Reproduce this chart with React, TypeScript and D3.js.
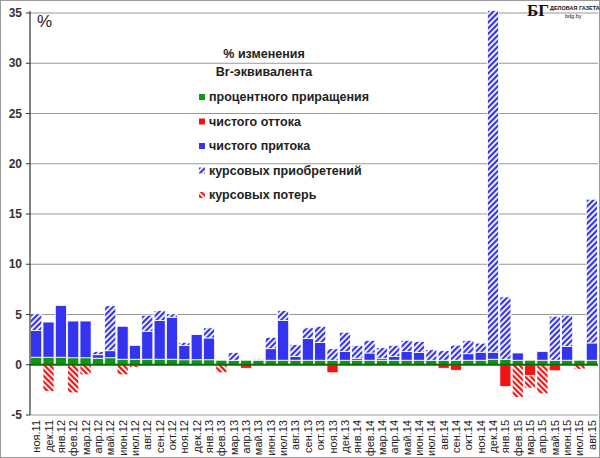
import * as d3 from "d3";

const months = [
  "ноя.11","дек.11","янв.12","фев.12","мар.12","апр.12","май.12","июн.12","июл.12","авг.12","сен.12","окт.12","ноя.12","дек.12",
  "янв.13","фев.13","мар.13","апр.13","май.13","июн.13","июл.13","авг.13","сен.13","окт.13","ноя.13","дек.13",
  "янв.14","фев.14","мар.14","апр.14","май.14","июн.14","июл.14","авг.14","сен.14","окт.14","ноя.14","дек.14",
  "янв.15","фев.15","мар.15","апр.15","май.15","июн.15","июл.15","авг.15",
];
// процентного приращения
const interest = [0.75,0.75,0.75,0.7,0.7,0.65,0.7,0.55,0.55,0.55,0.55,0.55,0.5,0.5,0.5,0.45,0.45,0.45,0.45,0.45,0.45,0.45,0.45,0.45,0.45,0.45,0.45,0.45,0.45,0.45,0.45,0.45,0.45,0.45,0.45,0.45,0.45,0.55,0.55,0.45,0.45,0.45,0.45,0.45,0.45,0.45];
// чистого притока
const inflow = [2.65,3.5,5.15,3.65,3.65,0.35,0.7,3.28,1.38,2.78,3.85,4.18,1.43,2.5,2.17,0,0,0,0.1,1.15,3.95,0.38,2.15,1.78,0,0.88,0.2,0.72,0.2,0.38,0.88,0.78,0,0,0,0.65,0.8,0.7,0,0.72,0,0.88,0,1.38,0,1.72];
// курсовых приобретений
const fxGain = [1.67,0,0,0,0,0.33,4.47,0,0,1.6,1.0,0.34,0.3,0,1.0,0,0.78,0,0.1,1.13,1.0,1.17,1.07,1.6,1.15,1.9,1.26,1.26,1.06,1.1,1.1,1.1,1.05,0.95,1.5,1.33,0.9,34.0,6.2,0,0,0,4.38,3.1,0,14.3];
// чистого оттока
const outflow = [0,0,0,0,0,0,0,0,0,0,0,0,0,0,0,0,0,0.35,0,0,0,0,0,0,0.8,0,0,0,0,0,0,0,0,0.35,0.55,0,0,0,2.17,0,1.1,0,0.6,0,0,0];
// курсовых потерь
const fxLoss = [0,2.67,0,2.8,1.0,0,0,1.0,0.25,0,0,0,0,0,0,0.8,0,0,0,0,0,0,0,0,0,0,0,0,0,0,0,0,0,0,0,0,0,0,0,3.25,1.23,2.9,0,0,0.45,0];
const yTicks = [-5, 0, 5, 10, 15, 20, 25, 30, 35];

const legend = [
  { label: "процентного приращения", fill: "#129612" },
  { label: "чистого оттока", fill: "#f01414" },
  { label: "чистого притока", fill: "#3434f0" },
  { label: "курсовых приобретений", fill: "url(#hb)" },
  { label: "курсовых потерь", fill: "url(#hr)" },
];

export default function App() {
  const W = 600, H = 458;
  const left = 30, right = 598, top = 13, bottom = 415;
  const x = d3.scaleBand<string>().domain(months).range([left, right]).paddingInner(0.1).paddingOuter(0.05);
  const y = d3.scaleLinear().domain([-5, 35]).range([bottom, top]);
  const font = "'Liberation Sans', Arial, sans-serif";

  const rects: JSX.Element[] = [];
  months.forEach((m, i) => {
    const bx = x(m)!;
    const bw = x.bandwidth();
    let base = 0;
    const up = [
      [interest[i], "#129612"],
      [inflow[i], "#3434f0"],
      [fxGain[i], "url(#hb)"],
    ] as [number, string][];
    up.forEach(([v, f], k) => {
      if (v > 0) {
        rects.push(<rect key={`u${i}${k}`} x={bx} width={bw} y={y(base + v)} height={y(base) - y(base + v)} fill={f} stroke="white" strokeWidth={0.8} />);
        base += v;
      }
    });
    let nb = 0;
    const down = [
      [outflow[i], "#f01414"],
      [fxLoss[i], "url(#hr)"],
    ] as [number, string][];
    down.forEach(([v, f], k) => {
      if (v > 0) {
        rects.push(<rect key={`d${i}${k}`} x={bx} width={bw} y={y(nb)} height={y(nb - v) - y(nb)} fill={f} stroke="white" strokeWidth={0.8} />);
        nb -= v;
      }
    });
  });

  return (
    <svg width={W} height={H} style={{ display: "block", position: "absolute", left: 0, top: 0 }} fontFamily={font}>
      <defs>
        <pattern id="hb" width="4" height="4" patternUnits="userSpaceOnUse" patternTransform="rotate(45)">
          <rect width="4" height="4" fill="white" />
          <rect width="2.2" height="4" fill="#3434f0" />
        </pattern>
        <pattern id="hr" width="4" height="4" patternUnits="userSpaceOnUse" patternTransform="rotate(-45)">
          <rect width="4" height="4" fill="white" />
          <rect width="2.2" height="4" fill="#f01414" />
        </pattern>
      </defs>
      <rect x={0.5} y={0.5} width={W - 1} height={H - 1} fill="white" stroke="#999" />
      {yTicks.map((t) => (
        <g key={t}>
          {t !== 0 && t !== -5 && <line x1={left} x2={right} y1={y(t)} y2={y(t)} stroke="#999" strokeWidth={1} />}
          <line x1={left - 4} x2={left} y1={y(t)} y2={y(t)} stroke="#333" />
          <text x={left - 8} y={y(t) + 4} textAnchor="end" fontSize={12} fontWeight="bold" fill="#333">{t}</text>
        </g>
      ))}
      <line x1={left} x2={right} y1={bottom} y2={bottom} stroke="#999" />
      {rects}
      <line x1={left} x2={right} y1={y(0)} y2={y(0)} stroke="#0a6a0a" strokeWidth={2} />
      <line x1={left} x2={left} y1={top - 2} y2={bottom} stroke="#333" strokeWidth={1.2} />
      <text x={37} y={27} fontSize={17} fill="#222">%</text>
      {months.map((m) => (
        <text key={m} transform={`translate(${x(m)! + x.bandwidth() / 2 + 4},${bottom + 5}) rotate(-90)`} textAnchor="end" fontSize={11} fill="#222">{m}</text>
      ))}
      <text x={264} y={58} textAnchor="middle" fontSize={12.5} fontWeight="bold" fill="#222">% изменения</text>
      <text x={264} y={76} textAnchor="middle" fontSize={12.5} fontWeight="bold" fill="#222">Вr-эквивалента</text>
      {legend.map((l, i) => (
        <g key={l.label} transform={`translate(199,${99 + i * 24.5})`}>
          <rect x={0} y={-5} width={6} height={6} fill={l.fill} />
          <text x={10} y={2} fontSize={12.5} fontWeight="bold" fill="#222">{l.label}</text>
        </g>
      ))}
      <text x={527} y={16} fontSize={17} fontWeight="bold" fontFamily="'Liberation Serif', serif" fill="#111">БГ</text>
      <text x={550} y={10} fontSize={5.5} fontWeight="bold" fill="#111">ДЕЛОВАЯ ГАЗЕТА</text>
      <text x={565} y={18} fontSize={5.5} fill="#111">bdg.by</text>
    </svg>
  );
}
